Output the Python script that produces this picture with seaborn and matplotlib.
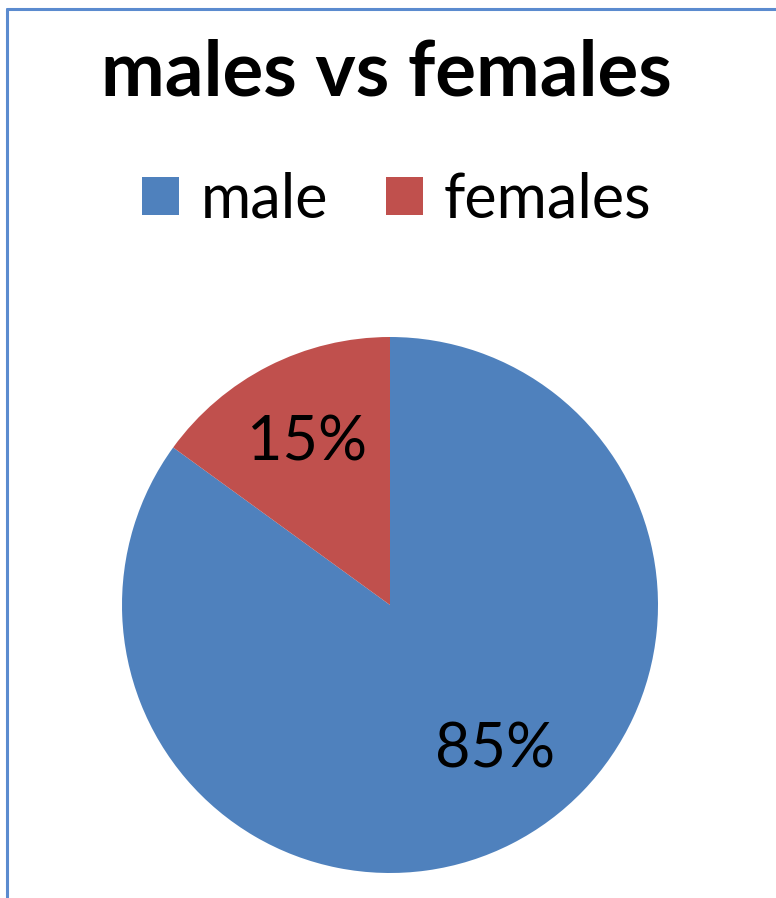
import math
import matplotlib
matplotlib.use("Agg")
import matplotlib.pyplot as plt
import seaborn as sns
from matplotlib.lines import Line2D

sns.set_style("white")
plt.rcParams['font.family'] = ['Lato', 'DejaVu Sans']
plt.rcParams['text.color'] = 'black'

categories = ["male", "females"]
values = [85, 15]
colors = ["#4F81BD", "#C0504D"]
title = "males vs females"

W, H = 776, 898
fig = plt.figure(figsize=(W / 100, H / 100), dpi=100)
fig.patch.set_facecolor("white")

# border (chart area frame, cut at right and bottom)
border = "#5B8BCF"
fig.add_artist(Line2D([7 / W, 1.0], [1 - 9 / H, 1 - 9 / H], color=border, lw=2.2,
                      transform=fig.transFigure))
fig.add_artist(Line2D([7 / W, 7 / W], [1 - 9 / H, 0.0], color=border, lw=2.2,
                      transform=fig.transFigure))

cx, cy, r = 390, 605, 268
ax = fig.add_axes([(cx - r) / W, 1 - (cy + r) / H, 2 * r / W, 2 * r / H])
wedges, texts, autotexts = ax.pie(values, colors=colors, startangle=90, counterclock=False,
                                  autopct="%1.0f%%", pctdistance=0.68,
                                  wedgeprops=dict(linewidth=0, edgecolor="none"),
                                  textprops=dict(fontsize=44, color="black"))
# Excel-style best-fit placement of the large slice label (shifted toward the right)
ang = math.radians(-54)
autotexts[0].set_position((0.67 * math.cos(ang), 0.67 * math.sin(ang)))
ax.set_xlim(-1, 1)
ax.set_ylim(-1, 1)
ax.set_aspect("equal")
ax.axis("off")

fig.text(386 / W, 1 - 73 / H, title, ha="center", va="center", fontsize=55,
         fontweight="bold", color="black")

fig.legend(wedges, categories, loc="center", bbox_to_anchor=(397 / W, 1 - 200 / H),
           ncol=2, frameon=False, fontsize=44, handlelength=0.6, handleheight=0.6,
           handletextpad=0.35, columnspacing=0.95, labelcolor="black")

fig.savefig("out.png", dpi=100, facecolor="white")
